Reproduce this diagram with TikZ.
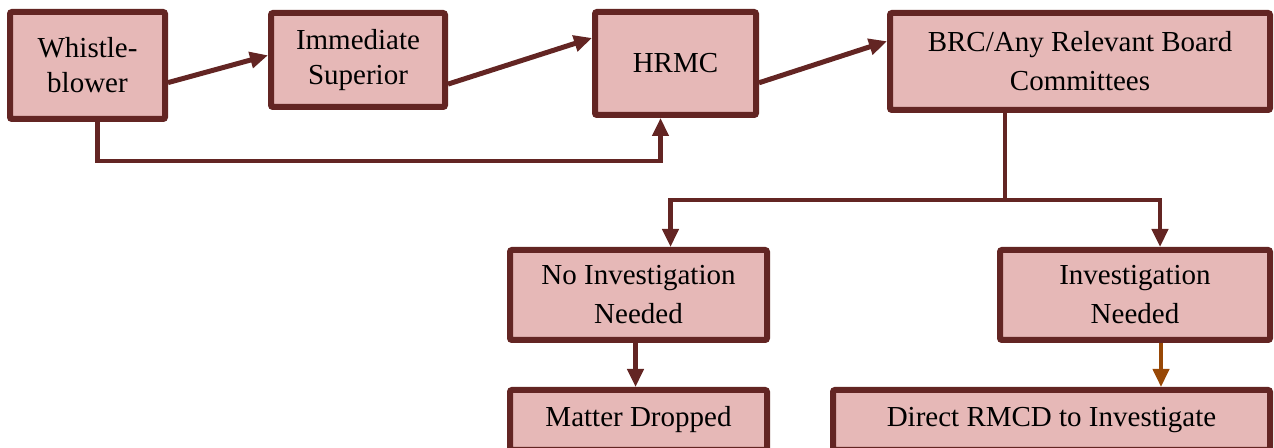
\documentclass[tikz,border=0pt]{standalone}
\usepackage{fontspec}
\setmainfont{Liberation Serif}
\usepackage{xcolor}
\usetikzlibrary{arrows.meta,positioning,calc}
\definecolor{boxfill}{HTML}{E6B8B7}
\definecolor{boxedge}{HTML}{632523}
\definecolor{actedge}{HTML}{984806}
\tikzset{
    flow-box/.style={
        rectangle,
        draw=boxedge,
        fill=boxfill,
        line width=3pt,
        rounded corners=1pt,
        align=center,
        inner sep=0pt,
        font=\fontsize{14.5}{17.5}\selectfont
    },
    wide-box/.style={
        flow-box,
        font=\fontsize{14.5}{19.5}\selectfont
    },
    flow-line/.style={
        draw=boxedge,
        line width=2.5pt,
        -{Triangle[length=9pt,width=8pt]}
    },
}

\begin{document}
\begin{tikzpicture}[x=0.5pt,y=-0.5pt]
        \useasboundingbox (0,0) rectangle (1274,448);
        \node [flow-box,minimum width=77.5pt,minimum height=53.5pt] (whistle) at (87.5,65.5) {Whistle-\\blower};
        \node [flow-box,minimum width=87pt,minimum height=47pt] (superior) at (358,60) {Immediate\\Superior};
        \node [flow-box,minimum width=80.5pt,minimum height=51.5pt] (hrmc) at (675.5,63.5) {HRMC};
        \node [wide-box,minimum width=190pt,minimum height=48.5pt] (brc) at (1080,61.5) {BRC/Any Relevant Board\\Committees};
        \node [wide-box,minimum width=128.5pt,minimum height=45pt] (noinv) at (638.5,295) {No Investigation\\Needed};
        \node [wide-box,minimum width=135pt,minimum height=45pt] (inv) at (1135,295) {Investigation\\Needed};
        \node [flow-box,minimum width=128.5pt,minimum height=30pt] (dropped) at (638.5,420) {Matter Dropped};
        \node [flow-box,minimum width=218.5pt,minimum height=30pt] (rmcd) at (1051.5,420) {Direct RMCD to Investigate};
        \draw [flow-line] (whistle.-12) -- (superior.177);
        \draw [flow-line] (superior.-15) -- (hrmc.163);
        \draw [flow-line] (hrmc.-13) -- (brc.174);
        \draw [flow-line,line width=2.2pt] ([xshift=5pt]whistle.south) -- ++(0,39) -| ([xshift=-7.5pt]hrmc.south);
        \draw [flow-line,line width=2.2pt,-] ([xshift=-37.5pt]brc.south) -- ++(0,87) coordinate (split);
        \draw [flow-line,line width=2.2pt] (split) -| ([xshift=16pt]noinv.north);
        \draw [flow-line,line width=2.2pt] (split) -| ([xshift=12.5pt]inv.north);
        \draw [flow-line,line width=2.2pt] ([xshift=-1.5pt]noinv.south) -- ([xshift=-1.5pt]noinv.south |- dropped.north);
        \draw [flow-line,line width=2pt,draw=actedge,fill=actedge] ([xshift=13pt]inv.south) -- ([xshift=13pt]inv.south |- rmcd.north);
    \end{tikzpicture}
\end{document}
